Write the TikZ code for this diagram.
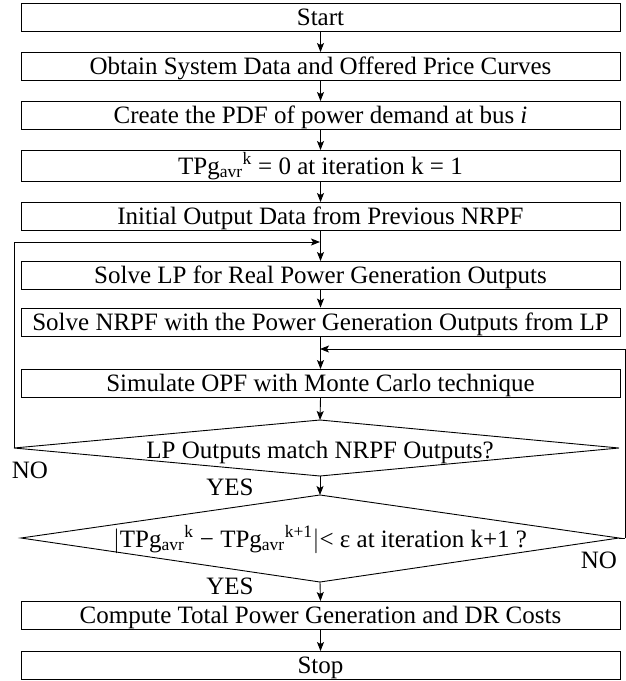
\documentclass[tikz,border=0pt]{standalone}
\usepackage{fontspec}
\setmainfont{Liberation Serif}
\usetikzlibrary{arrows.meta}
\begin{document}
\begin{tikzpicture}[x=1pt,y=-1pt,
  box/.style={draw, line width=0.9pt, minimum width=599pt, minimum height=28pt, inner sep=0pt, text height=19pt, text depth=3pt, font=\fontsize{25}{30}\selectfont},
  lbl/.style={inner sep=0pt, text height=19pt, text depth=3pt, font=\fontsize{25}{30}\selectfont},
  arr/.style={line width=0.9pt, -{Stealth[length=9pt,width=7pt,inset=2pt]}},
  ln/.style={line width=0.9pt}]
\useasboundingbox (0,0) rectangle (626,681);
% boxes
\node[box] (start) at (320.5,17.5) {Start};
\node[box] (obtain) at (320.5,66.5) {Obtain System Data and Offered Price Curves};
\node[box] (create) at (320.5,115.5) {Create the PDF of power demand at bus \textit{i}};
\node[box, minimum height=31pt] (tpg) at (320.5,166) {TPg\textsubscript{avr}\textsuperscript{k} = 0 at iteration k = 1};
\node[box] (init) at (320.5,216.5) {Initial Output Data from Previous NRPF};
\node[box] (lp) at (320.5,275.5) {Solve LP for Real Power Generation Outputs};
\node[box] (nrpf) at (320.5,322) {Solve NRPF with the Power Generation Outputs from LP};
\node[box] (sim) at (320.5,383.5) {Simulate OPF with Monte Carlo technique};
\node[box] (comp) at (320.5,615.5) {Compute Total Power Generation and DR Costs};
\node[box] (stop) at (320.5,665.5) {Stop};
% diamond 1
\coordinate (d1n) at (320,420);
\coordinate (d1e) at (619,448);
\coordinate (d1s) at (320,476);
\coordinate (d1w) at (14,448);
\draw[ln] (d1n) -- (d1e) -- (d1s) -- (d1w) -- cycle;
\node[lbl] (d1) at (320,450) {LP Outputs match NRPF Outputs?};
% diamond 2
\coordinate (d2n) at (320,495);
\coordinate (d2e) at (619,538);
\coordinate (d2s) at (320,582);
\coordinate (d2w) at (21,538);
\draw[ln] (d2n) -- (d2e) -- (d2s) -- (d2w) -- cycle;
\node[lbl] (d2) at (320,539) {$|$TPg\textsubscript{avr}\textsuperscript{k} − TPg\textsubscript{avr}\textsuperscript{k+1}$|$< ε at iteration k+1 ?};
% junctions
\coordinate (j1) at (320,242);
\coordinate (j2) at (320,349);
\coordinate (r2) at (625,538);
% labels
\node[lbl] (no1) at (30,470) {NO};
\node[lbl] (yes1) at (230,487) {YES};
\node[lbl] (no2) at (599,560) {NO};
\node[lbl] (yes2) at (230,586) {YES};
% connectors
\draw[arr] (start.south) -- (obtain.north);
\draw[arr] (obtain.south) -- (create.north);
\draw[arr] (create.south) -- (tpg.north);
\draw[arr] (tpg.south) -- (init.north);
\draw[arr] (init.south) -- (lp.north);
\draw[arr] (lp.south) -- (nrpf.north);
\draw[arr] (nrpf.south) -- (sim.north);
\draw[arr] (sim.south) -- (d1n);
\draw[arr] (d1s) -- (d2n);
\draw[arr] (d2s) -- (comp.north);
\draw[arr] (comp.south) -- (stop.north);
\draw[arr] (d1w) |- (j1);
\draw[ln] (d2e) -- (r2);
\draw[arr] (r2) |- (j2);
\end{tikzpicture}
\end{document}
